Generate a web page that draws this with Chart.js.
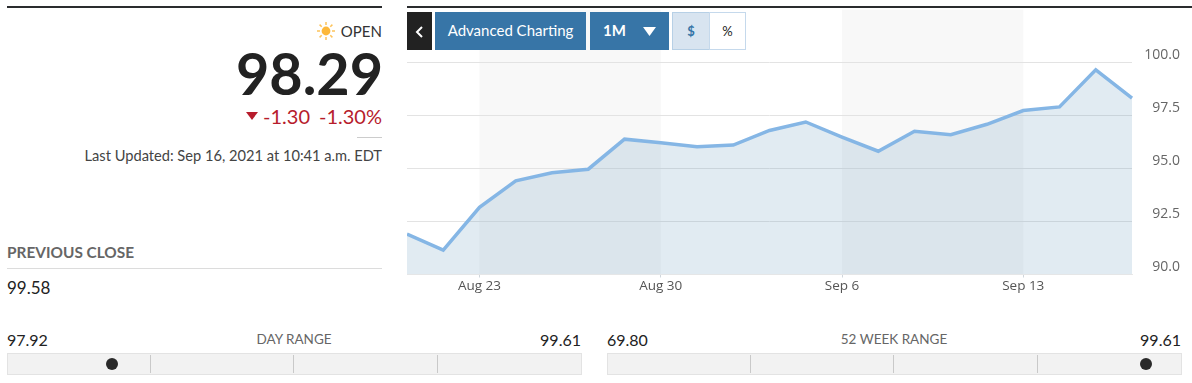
<!DOCTYPE html>
<html lang="en">
<head>
    <meta charset="UTF-8">
    <title>98.29</title>
    <script src="https://cdn.jsdelivr.net/npm/chart.js"></script>
    <style>
        html, body { margin: 0; padding: 0; background: #fff; overflow: hidden; }
        body { width: 1192px; height: 383px; position: relative; font-family: Lato, "Open Sans", sans-serif; color: #222; }
        .abs { position: absolute; white-space: nowrap; }
        .rule { position: absolute; background: #2a2c2e; height: 2px; top: 6px; }
        .line { position: absolute; background: #dcdcdc; height: 1px; }
        .right { text-align: right; }
        .mid { text-align: center; }
        #chartBox { position: absolute; left: 407px; top: 0; width: 785px; height: 300px; }
        .btn { position: absolute; top: 12px; height: 38px; line-height: 36px; background: #3775a7; color: #fff; font-size: 15px; z-index: 2; box-sizing: border-box; }
        .bar { position: absolute; top: 353px; height: 22px; background: #f2f2f2; border: 1px solid #e3e3e3; box-sizing: border-box; }
        .tick { position: absolute; top: 1px; bottom: 1px; width: 1px; background: #c9c9c9; }
        .dot { position: absolute; top: 358px; width: 12px; height: 12px; border-radius: 50%; background: #2a2a2a; }
        .rangeNum { top: 330px; font-size: 16px; line-height: 19px; }
        .rangeName { top: 331px; font-size: 13.5px; line-height: 17px; color: #666; }
    </style>
</head>
<body>
    <div class="rule" style="left:7px;width:375px"></div>
    <div class="rule" style="left:407px;width:785px"></div>

    <svg class="abs" style="left:316px;top:21px" width="20" height="20" viewBox="0 0 20 20">
        <circle cx="10" cy="10" r="4.4" fill="#fdb83a"/>
        <g stroke="#fdc35a" stroke-width="1.5">
            <line x1="10" y1="1" x2="10" y2="4"/><line x1="10" y1="16" x2="10" y2="19"/>
            <line x1="1" y1="10" x2="4" y2="10"/><line x1="16" y1="10" x2="19" y2="10"/>
            <line x1="3.6" y1="3.6" x2="5.7" y2="5.7"/><line x1="14.3" y1="14.3" x2="16.4" y2="16.4"/>
            <line x1="3.6" y1="16.4" x2="5.7" y2="14.3"/><line x1="14.3" y1="5.7" x2="16.4" y2="3.6"/>
        </g>
    </svg>
    <div class="abs right" style="right:810px;top:22px;font-size:15px;line-height:18px;color:#333">OPEN</div>
    <div class="abs right" style="right:809px;top:37px;font-size:57.5px;line-height:72px;font-weight:700;color:#222">98.29</div>
    <svg class="abs" style="left:246px;top:112px" width="12" height="8"><polygon points="0,0 12,0 6,8" fill="#b71c2c"/></svg>
    <div class="abs right" style="right:810px;top:105px;font-size:20px;line-height:22px;color:#b71c2c"><span style="margin-right:9px">-1.30</span>-1.30%</div>
    <div class="line" style="left:357px;width:25px;top:137px;background:#ccc"></div>
    <div class="abs right" style="right:810px;top:147px;font-size:14.65px;line-height:18px;color:#444">Last Updated: Sep 16, 2021 at 10:41 a.m. EDT</div>

    <div class="abs" style="left:7px;top:243px;font-size:15.4px;line-height:18px;font-weight:700;color:#666">PREVIOUS CLOSE</div>
    <div class="line" style="left:7px;width:375px;top:268px"></div>
    <div class="abs" style="left:7px;top:277px;font-size:17px;line-height:22px;color:#222">99.58</div>

    <div class="abs rangeNum" style="left:7px">97.92</div>
    <div class="abs rangeName mid" style="left:194px;width:200px">DAY RANGE</div>
    <div class="abs rangeNum right" style="right:611px">99.61</div>
    <div class="bar" style="left:7px;width:575px">
        <div class="tick" style="left:142px"></div><div class="tick" style="left:285px"></div><div class="tick" style="left:429px"></div>
    </div>
    <div class="dot" style="left:106px"></div>

    <div class="abs rangeNum" style="left:607px">69.80</div>
    <div class="abs rangeName mid" style="left:794px;width:200px">52 WEEK RANGE</div>
    <div class="abs rangeNum right" style="right:11px">99.61</div>
    <div class="bar" style="left:607px;width:575px">
        <div class="tick" style="left:142px"></div><div class="tick" style="left:285px"></div><div class="tick" style="left:429px"></div>
    </div>
    <div class="dot" style="left:1140px"></div>

    <div id="chartBox"><canvas id="priceChart"></canvas></div>

    <div class="btn" style="left:407px;width:25px;background:#222">
        <svg class="abs" style="left:8px;top:14px" width="9" height="12"><polyline points="7,1 2,6 7,11" fill="none" stroke="#fff" stroke-width="2"/></svg>
    </div>
    <div class="btn mid" style="left:435px;width:151px">Advanced Charting</div>
    <div class="btn" style="left:590px;width:79px;padding-left:13px;font-weight:700">1M
        <svg class="abs" style="left:53px;top:15px" width="13" height="9"><polygon points="0,0 13,0 6.5,9" fill="#fff"/></svg>
    </div>
    <div class="btn mid" style="left:672px;width:38px;background:#d8e4f0;border:1px solid #b7d0e6;color:#3775a7;font-size:13px;font-weight:700">$</div>
    <div class="btn mid" style="left:709px;width:37px;background:#fff;border:1px solid #c5d9ec;color:#222;font-size:13px">%</div>

    <script>
        const categories = ['Aug 19', 'Aug 20', 'Aug 23', 'Aug 24', 'Aug 25', 'Aug 26', 'Aug 27', 'Aug 30', 'Aug 31', 'Sep 1', 'Sep 2', 'Sep 3', 'Sep 6', 'Sep 7', 'Sep 8', 'Sep 9', 'Sep 10', 'Sep 13', 'Sep 14', 'Sep 15', 'Sep 16'];
        const prices = [91.91, 91.15, 93.17, 94.42, 94.80, 94.97, 96.39, 96.22, 96.03, 96.11, 96.80, 97.20, 96.49, 95.82, 96.76, 96.60, 97.09, 97.74, 97.91, 99.66, 98.33];
        const xTickLabels = ['Aug 23', 'Aug 30', 'Sep 6', 'Sep 13'];
        const yTickValues = [90, 92.5, 95, 97.5, 100];
        const shadedWeeks = [['Aug 23', 'Aug 30'], ['Sep 6', 'Sep 13']];

        const weekBands = {
            id: 'weekBands',
            beforeDraw(chart) {
                const { ctx, chartArea, scales } = chart;
                ctx.save();
                ctx.fillStyle = '#f8f8f8';
                shadedWeeks.forEach(function (week) {
                    const left = scales.x.getPixelForValue(categories.indexOf(week[0]));
                    const right = scales.x.getPixelForValue(categories.indexOf(week[1]));
                    ctx.fillRect(left, chartArea.top, right - left, chartArea.bottom - chartArea.top);
                });
                ctx.restore();
            }
        };

        const ctx = document.getElementById('priceChart').getContext('2d');
        const priceChart = new Chart(ctx, {
            type: 'line',
            data: {
                labels: categories,
                datasets: [{
                    data: prices,
                    borderColor: '#85b6e5',
                    borderWidth: 3.5,
                    backgroundColor: 'rgba(91, 143, 183, 0.18)',
                    fill: 'start',
                    tension: 0,
                    pointRadius: 0
                }]
            },
            options: {
                responsive: true,
                maintainAspectRatio: false,
                animation: false,
                layout: { padding: { top: 9.7, left: 0, right: 12, bottom: 0 } },
                plugins: { legend: { display: false }, tooltip: { enabled: false } },
                scales: {
                    x: {
                        offset: false,
                        border: { color: '#e8e8e8' },
                        grid: { drawOnChartArea: false, color: '#cfd6dc', tickLength: 3 },
                        afterBuildTicks(scale) {
                            scale.ticks = scale.ticks.filter(function (t) {
                                return xTickLabels.includes(categories[t.value]);
                            });
                        },
                        afterFit(scale) {
                            scale.height = 25.5;
                            scale.paddingLeft = 0;
                            scale.paddingRight = 0;
                        },
                        ticks: {
                            autoSkip: false,
                            maxRotation: 0,
                            padding: 1,
                            color: '#555',
                            font: { family: 'Open Sans', size: 13.5 }
                        }
                    },
                    y: {
                        position: 'right',
                        min: 90,
                        max: 102.5,
                        border: { display: false },
                        grid: { color: '#e3e3e3', lineWidth: 1, drawTicks: false },
                        afterBuildTicks(scale) {
                            scale.ticks = yTickValues.map(function (v) { return { value: v }; });
                        },
                        afterFit(scale) {
                            scale.width = 48;
                            scale.paddingTop = 0;
                            scale.paddingBottom = 0;
                        },
                        ticks: {
                            crossAlign: 'far',
                            color: '#666',
                            font: { family: 'Open Sans', size: 14, lineHeight: 15 / 14 },
                            // second empty line lifts the label above its grid line
                            callback(value) { return [value.toFixed(1), '']; }
                        }
                    }
                }
            },
            plugins: [weekBands]
        });
    </script>
</body>
</html>
